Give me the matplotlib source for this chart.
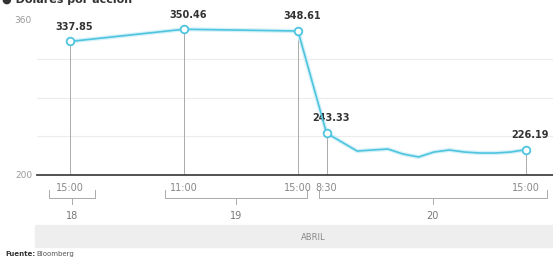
import matplotlib
matplotlib.use("Agg")
import matplotlib.pyplot as plt
from matplotlib.transforms import blended_transform_factory

# ---- data ----
# positions on a compressed time axis (one unit ~ one session gap)
key_x = [0.0, 1.0, 2.0, 2.25, 4.0]
key_values = [337.85, 350.46, 348.61, 243.33, 226.19]
key_labels = ["337.85", "350.46", "348.61", "243.33", "226.19"]
time_labels = ["15:00", "11:00", "15:00", "8:30", "15:00"]

# intraday (April 20, half-hourly 8:30 -> 15:00)
intraday_values = [243.33, 234.0, 224.7, 225.8, 226.8, 221.6, 218.6,
                   223.7, 225.8, 223.7, 222.7, 222.7, 223.7, 226.19]

days = ["18", "19", "20"]
day_ranges = [(-0.18, 0.22), (0.83, 2.08), (2.18, 4.18)]
month = "ABRIL"
yticks = [200, 360]
grid_vals = [240, 280, 320]

title = "● Dólares por acción"
source_bold = "Fuente:"
source_text = "Bloomberg"

# ---- figure ----
W, H = 553, 260
fig = plt.figure(figsize=(W / 100, H / 100), dpi=100)
ax_left_px, ax_right_px = 37, 553
ax_top_px, ax_bottom_px = 10, 175
ax = fig.add_axes([ax_left_px / W, (H - ax_bottom_px) / H,
                   (ax_right_px - ax_left_px) / W, (ax_bottom_px - ax_top_px) / H])

px_per_unit = 114.0
x0_px = 70
ax.set_xlim(-(x0_px - ax_left_px) / px_per_unit, (ax_right_px - x0_px) / px_per_unit)
ppu_y = (175 - 20) / 160.0
ax.set_ylim(200, 200 + (ax_bottom_px - ax_top_px) / ppu_y)

for s in ax.spines.values():
    s.set_visible(False)
ax.set_xticks([])
ax.set_yticks([])

# gridlines
for g in grid_vals:
    ax.axhline(g, color="#ececec", lw=0.8, zorder=0)

# base axis
ax.axhline(200, color="#444444", lw=1.3, zorder=3, clip_on=False)

# series line
n = len(intraday_values)
ix = [key_x[3] + (key_x[4] - key_x[3]) * i / (n - 1) for i in range(n)]
xs = key_x[:3] + ix
ys = key_values[:3] + intraday_values
line_color = "#4fc4df"
ax.plot(xs, ys, color="#d3f1f8", lw=3.0, zorder=2, solid_capstyle="round")
ax.plot(xs, ys, color=line_color, lw=1.2, zorder=4)

# vertical drop lines and markers
for x, v, lab in zip(key_x, key_values, key_labels):
    ax.plot([x, x], [200, v], color="#aaaaaa", lw=0.7, zorder=1)
    ax.plot([x], [v], marker="o", ms=5.5, mfc="white", mec=line_color, mew=1.3, zorder=5)
    ax.annotate(lab, (x, v), xytext=(3, 7), textcoords="offset points",
                ha="center", va="bottom", fontsize=7, fontweight="bold", color="#333333")

# y labels
ytr = blended_transform_factory(fig.transFigure, ax.transData)
for t in yticks:
    ax.text(32 / W, t, str(t), transform=ytr, ha="right", va="center",
            fontsize=6.5, color="#999999", clip_on=False)

tr = blended_transform_factory(ax.transData, fig.transFigure)
def fy(py):
    return (H - py) / H

# time labels
for x, t in zip(key_x, time_labels):
    ax.text(x, fy(188), t, transform=tr, ha="center", va="center",
            fontsize=7, color="#888888", clip_on=False)

# day brackets
for (a, b), d in zip(day_ranges, days):
    ax.plot([a, a, b, b], [fy(190), fy(198), fy(198), fy(190)], transform=tr,
            color="#aaaaaa", lw=0.7, clip_on=False)
    c = (a + b) / 2
    ax.plot([c, c], [fy(198), fy(204)], transform=tr, color="#aaaaaa", lw=0.7, clip_on=False)
    ax.text(c, fy(216), d, transform=tr, ha="center", va="center",
            fontsize=7, color="#777777", clip_on=False)

# month band
fig.patches.append(plt.Rectangle((35 / W, fy(247)), (553 - 35) / W, 22 / H,
                                 transform=fig.transFigure, color="#eeeeee", zorder=0))
fig.text(313 / W, fy(238), month, ha="center", va="center", fontsize=6, color="#888888")

# title (partially cut at the top, as in the reference)
fig.text(2 / W, fy(0), title, ha="left", va="center", fontsize=8, fontweight="bold", color="#333333")

# source
fig.text(5 / W, fy(254), source_bold, ha="left", va="center", fontsize=5,
         fontweight="bold", color="#333333")
fig.text(36 / W, fy(254), source_text, ha="left", va="center", fontsize=5, color="#555555")

fig.savefig("out.png", dpi=100, facecolor="white")
